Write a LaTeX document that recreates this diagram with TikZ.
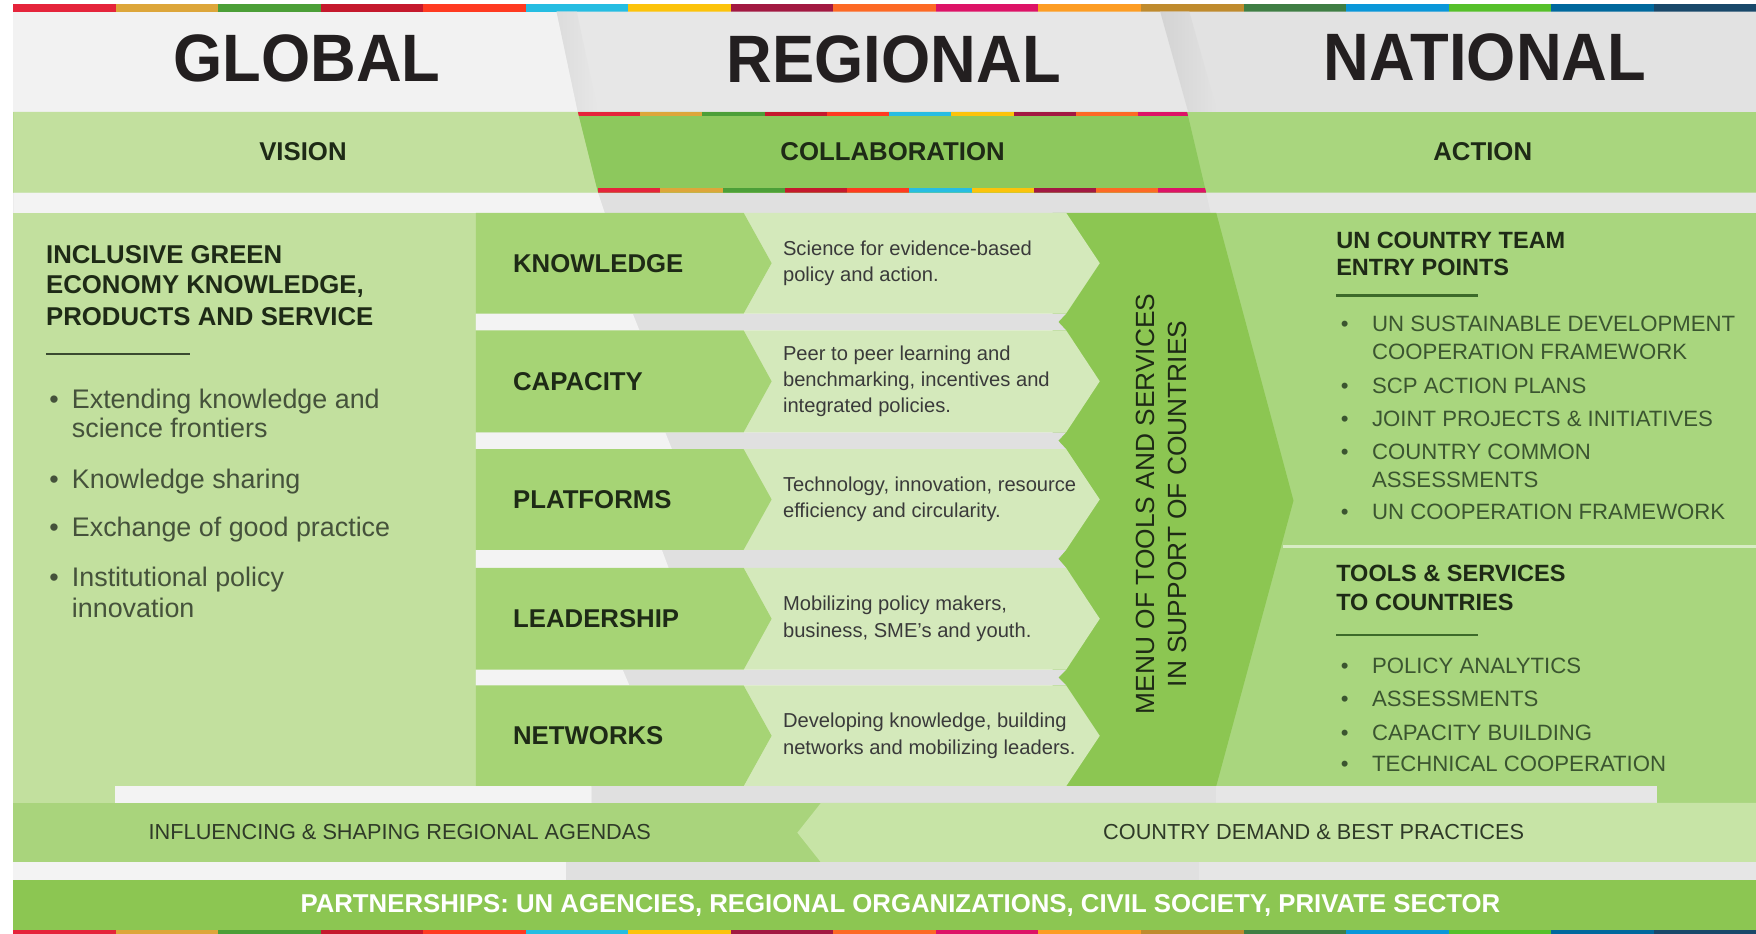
\documentclass[tikz,border=0pt]{standalone}
\usepackage{fontspec}
\setmainfont{Liberation Sans}
\usepackage{graphicx}
\definecolor{titlegray}{HTML}{231F20}
\definecolor{darktext}{HTML}{1E2A16}
\definecolor{bultext}{HTML}{45523B}
\definecolor{desctext}{HTML}{3A3A3A}
\definecolor{rbultext}{HTML}{3B5530}
\definecolor{bottext}{HTML}{2F3A28}
\definecolor{hdrA}{HTML}{F2F2F2}
\definecolor{hdrB}{HTML}{E7E7E7}
\definecolor{hdrBs}{HTML}{DCDCDC}
\definecolor{hdrC}{HTML}{E2E2E2}
\definecolor{hdrCs}{HTML}{D3D3D3}
\definecolor{visfill}{HTML}{C2E09E}
\definecolor{colfill}{HTML}{8DC85D}
\definecolor{actfill}{HTML}{A9D67E}
\definecolor{labfill}{HTML}{A6D475}
\definecolor{descfill}{HTML}{D4E9BB}
\definecolor{menufill}{HTML}{8CC652}
\definecolor{stripw}{HTML}{F3F3F3}
\definecolor{stripg}{HTML}{E0E0E0}
\definecolor{stripg2}{HTML}{E6E6E6}
\definecolor{inflfill}{HTML}{A9D47C}
\definecolor{cdfill}{HTML}{C7E4A6}
\definecolor{partfill}{HTML}{8CC652}
\definecolor{rule}{HTML}{3D6A2A}
\definecolor{rulel}{HTML}{3A4A30}
\tikzset{
  title/.style={font=\fontsize{56.5}{60}\selectfont\bfseries, text=titlegray, inner sep=0, anchor=base},
  bandtxt/.style={font=\fontsize{23}{26}\selectfont\bfseries, text=darktext, inner sep=0, anchor=base},
  lhead/.style={font=\fontsize{23}{28}\selectfont\bfseries, text=darktext, inner sep=0, anchor=base west},
  lbul/.style={font=\fontsize{24}{27}\selectfont, text=bultext, inner sep=0, anchor=base west},
  labtxt/.style={font=\fontsize{23}{26}\selectfont\bfseries, text=darktext, inner sep=0, anchor=west},
  desctxt/.style={font=\fontsize{18}{23.5}\selectfont, text=desctext, inner sep=0, anchor=west, align=left},
  menutxt/.style={font=\fontsize{23.5}{28}\selectfont, text=darktext, inner sep=0, rotate=90, align=center},
  rhead/.style={font=\fontsize{21}{26}\selectfont\bfseries, text=darktext, inner sep=0, anchor=base west},
  rbul/.style={font=\fontsize{19.8}{24}\selectfont, text=rbultext, inner sep=0, anchor=base west},
  btxt/.style={font=\fontsize{19.4}{22}\selectfont, text=bottext, inner sep=0, anchor=base},
  ptxt/.style={font=\fontsize{23}{26}\selectfont\bfseries, text=white, inner sep=0, anchor=base},
}
\begin{document}
\begin{tikzpicture}[x=1pt,y=-1pt]
\useasboundingbox (0,0) rectangle (1568,834);
\fill[white] (0,0) rectangle (1568,834);
% ---------- SDG colour bars ----------
\foreach \c [count=\i from 0] in {E5243B,DDA63A,4C9F38,C5192D,FF3A21,26BDE2,FCC30B,A21942,FD6925,DD1367,FD9D24,BF8B2E,3F7E44,0A97D9,56C02B,00689D,19486A}{
  \definecolor{sdgtmp}{HTML}{\c}
  \fill[sdgtmp] ({12+\i*91.53},3.6) rectangle ({12+(\i+1)*91.53},10.4);
  \fill[sdgtmp] ({12+\i*91.53},830) rectangle ({12+(\i+1)*91.53},834);
}
% ---------- header ----------
\fill[hdrA] (12,10.4) rectangle (1568,100);
\fill[hdrB] (497,10.4) -- (1036,10.4) -- (1061,100) -- (516,100) -- cycle;
\shade[left color=hdrBs, right color=hdrB] (497,10.4) -- (515,10.4) -- (534,100) -- (516,100) -- cycle;
\fill[hdrC] (1036,10.4) -- (1568,10.4) -- (1568,100) -- (1061,100) -- cycle;
\shade[left color=hdrCs, right color=hdrC] (1036,10.4) -- (1062,10.4) -- (1087,100) -- (1061,100) -- cycle;
\node[title] (tglobal) at (274,73) {\scalebox{1}[1.06]{GLOBAL}};
\node[title] (tregional) at (798,74) {\scalebox{1}[1.06]{REGIONAL}};
\node[title] (tnational) at (1326,71.5) {\scalebox{1}[1.06]{NATIONAL}};
% ---------- second band ----------
\fill[actfill] (12,100) rectangle (1568,172);
\fill[visfill] (12,100) -- (516,100) -- (534,172) -- (12,172) -- cycle;
\fill[colfill] (516,100) -- (1060,100) -- (1077,172) -- (534,172) -- cycle;
\begin{scope}
  \clip (516,100) -- (1060,100) -- (1077,172) -- (534,172) -- cycle;
  \foreach \c [count=\i from 0] in {E5243B,DDA63A,4C9F38,C5192D,FF3A21,26BDE2,FCC30B,A21942,FD6925,DD1367}{
    \definecolor{sdgtmp}{HTML}{\c}
    \fill[sdgtmp] ({516+\i*55.6},100) rectangle ({516+(\i+1)*55.6},104);
    \fill[sdgtmp] ({534+\i*55.6},167.5) rectangle ({534+(\i+1)*55.6},172);
  }
\end{scope}
\node[bandtxt] (vision) at (270.5,143) {VISION};
\node[bandtxt] (collab) at (797,143) {COLLABORATION};
\node[bandtxt] (action) at (1324,143) {ACTION};
% ---------- strip under band ----------
\fill[stripg] (12,172) rectangle (1568,190);
\fill[stripw] (12,172) -- (534,172) -- (540,190) -- (12,190) -- cycle;
\fill[stripg2] (1077,172) -- (1568,172) -- (1568,190) -- (1081,190) -- cycle;
% ---------- main body ----------
\fill[visfill] (12,190) rectangle (425,717);
\fill[actfill] (1060,190) rectangle (1568,702);
\fill[menufill] (940,190) -- (1086,190) -- (1155,447) -- (1086,702) -- (940,702) -- cycle;
% gap strips between rows
\foreach \ga/\gb/\dv in {280/295/568, 386/401/597, 491/507/594, 598/612/559}{
  \pgfmathsetmacro\gm{(\ga+\gb)/2}
  \fill[stripg] (425,\ga) -- (952,\ga) -- (945,\gm) -- (952,\gb) -- (425,\gb) -- cycle;
  \fill[stripw] (425,\ga) -- ({\dv-3},\ga) -- ({\dv+3},\gb) -- (425,\gb) -- cycle;
}
% rows
\foreach \t/\b/\lbl/\dsc [count=\i] in {
  190/280/KNOWLEDGE/{Science for evidence-based\\policy and action.},
  295/386/CAPACITY/{Peer to peer learning and\\benchmarking, incentives and\\integrated policies.},
  401/491/PLATFORMS/{Technology, innovation, resource\\efficiency and circularity.},
  507/598/LEADERSHIP/{Mobilizing policy makers,\\business, SME's and youth.},
  612/702/NETWORKS/{Developing knowledge, building\\networks and mobilizing leaders.}}{
  \pgfmathsetmacro\m{(\t+\b)/2}
  \fill[descfill] (664,\t) -- (952,\t) -- (982,\m) -- (952,\b) -- (664,\b) -- cycle;
  \fill[labfill] (425,\t) -- (664,\t) -- (689,\m) -- (664,\b) -- (425,\b) -- cycle;
  \node[labtxt] (lab\i) at (458,\m) {\lbl};
  \node[desctxt] (desc\i) at (699,\m) {\dsc};
}
\node[menutxt] (menu) at (1037,450) {MENU OF TOOLS AND SERVICES\\IN SUPPORT OF COUNTRIES};
% right panel separator
\fill[white, opacity=0.55] (1146,486.5) rectangle (1568,489.5);
% ---------- left panel text ----------
\node[lhead] (lh1) at (41,235) {INCLUSIVE GREEN};
\node[lhead] (lh2) at (41,262.5) {ECONOMY KNOWLEDGE,};
\node[lhead] (lh3) at (41,291) {PRODUCTS AND SERVICE};
\draw[rulel, line width=1.5pt] (41,316) -- (170,316);
\node[lbul] (lb1) at (44,365) {•};
\node[lbul] (lt1a) at (64,365) {Extending knowledge and};
\node[lbul] (lt1b) at (64,391) {science frontiers};
\node[lbul] (lb2) at (44,436) {•};
\node[lbul] (lt2) at (64,436) {Knowledge sharing};
\node[lbul] (lb3) at (44,479) {•};
\node[lbul] (lt3) at (64,479) {Exchange of good practice};
\node[lbul] (lb4) at (44,524) {•};
\node[lbul] (lt4a) at (64,524) {Institutional policy};
\node[lbul] (lt4b) at (64,551) {innovation};
% ---------- right panel text ----------
\node[rhead] (rh1) at (1193,222) {UN COUNTRY TEAM};
\node[rhead] (rh2) at (1193,246) {ENTRY POINTS};
\draw[rule, line width=2.5pt] (1193,264) -- (1320,264);
\foreach \y/\txt/\bul [count=\j] in {
  296/{UN SUSTAINABLE DEVELOPMENT}/1, 321/{COOPERATION FRAMEWORK}/0,
  351/{SCP ACTION PLANS}/1, 381/{JOINT PROJECTS \& INITIATIVES}/1,
  410/{COUNTRY COMMON}/1, 435/{ASSESSMENTS}/0,
  464/{UN COOPERATION FRAMEWORK}/1}{
  \ifnum\bul=1 \node[rbul] (rub\j) at (1197,\y) {•};\fi
  \node[rbul] (rut\j) at (1225,\y) {\txt};
}
\node[rhead] (rh3) at (1193,519) {TOOLS \& SERVICES};
\node[rhead] (rh4) at (1193,545) {TO COUNTRIES};
\draw[rule, line width=2.5pt] (1193,567) -- (1320,567);
\foreach \y/\txt [count=\j] in {601/{POLICY ANALYTICS}, 631/{ASSESSMENTS}, 661/{CAPACITY BUILDING}, 689/{TECHNICAL COOPERATION}}{
  \node[rbul] (rlb\j) at (1197,\y) {•};
  \node[rbul] (rlt\j) at (1225,\y) {\txt};
}
% ---------- bottom ----------
\fill[stripw] (103,702) rectangle (528,717);
\fill[stripg] (528,702) -- (1086,702) -- (1088,717) -- (528,717) -- cycle;
\fill[stripg2] (1086,702) rectangle (1480,717);
\fill[actfill] (1480,702) rectangle (1568,717);
\fill[inflfill] (12,717) rectangle (1568,770);
\fill[cdfill] (733,717) -- (1568,717) -- (1568,770) -- (733,770) -- (712,743.5) -- cycle;
\node[btxt] (infl) at (357,750) {INFLUENCING \& SHAPING REGIONAL AGENDAS};
\node[btxt] (cdem) at (1173,750) {COUNTRY DEMAND \& BEST PRACTICES};
\fill[stripw] (12,770) rectangle (505,786);
\fill[stripg] (505,770) rectangle (1071,786);
\fill[stripg2] (1071,770) rectangle (1568,786);
\fill[partfill] (12,786) rectangle (1568,830);
\node[ptxt] (partn) at (804,815) {PARTNERSHIPS: UN AGENCIES, REGIONAL ORGANIZATIONS, CIVIL SOCIETY, PRIVATE SECTOR};
\end{tikzpicture}
\end{document}
